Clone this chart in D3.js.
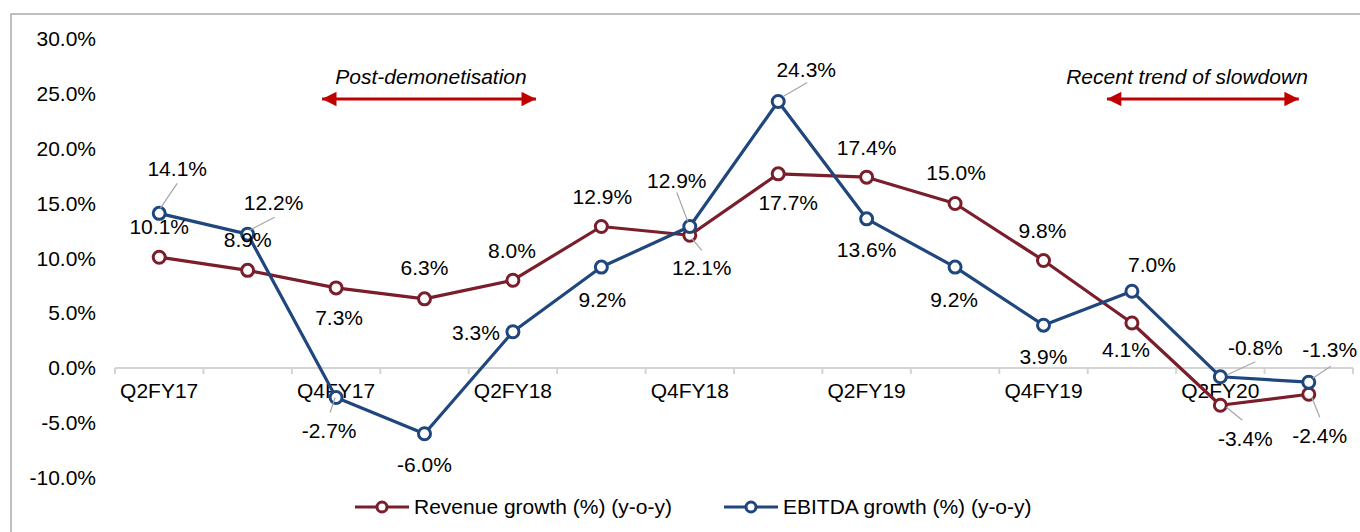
<!DOCTYPE html>
<html>
<head>
<meta charset="utf-8">
<script src="https://cdn.jsdelivr.net/npm/d3@7"></script>
<style>
  html, body { margin: 0; padding: 0; background: #fff; }
  svg { display: block; font-family: "Liberation Sans", Arial, sans-serif; }
</style>
</head>
<body>
<svg id="chart" width="1360" height="532"></svg>
<script>
// ---- Data ----
const categories = ["Q2FY17","Q3FY17","Q4FY17","Q1FY18","Q2FY18","Q3FY18","Q4FY18","Q1FY19","Q2FY19","Q3FY19","Q4FY19","Q1FY20","Q2FY20","Q3FY20"];
const revenueGrowth = [10.1, 8.9, 7.3, 6.3, 8.0, 12.9, 12.1, 17.7, 17.4, 15.0, 9.8, 4.1, -3.4, -2.4];
const ebitdaGrowth  = [14.1, 12.2, -2.7, -6.0, 3.3, 9.2, 12.9, 24.3, 13.6, 9.2, 3.9, 7.0, -0.8, -1.3];
const yTicks = [-10, -5, 0, 5, 10, 15, 20, 25, 30];
const seriesNames = ["Revenue growth (%) (y-o-y)", "EBITDA growth (%) (y-o-y)"];
const annotations = [
  { text: "Post-demonetisation", from: "Q4FY17", to: "Q2FY18" },
  { text: "Recent trend of slowdown", from: "Q1FY20", to: "Q3FY20" }
];

// ---- Label layout (pixel offsets from the point: label centre dx,dy; optional leader segment) ----
const revLabelLayout = [
  {dx:0,dy:-31},{dx:0,dy:-31},{dx:3,dy:30},{dx:0,dy:-31},{dx:-1,dy:-30},{dx:1,dy:-30},
  {dx:12,dy:32,lead:[2,3,12,15]},{dx:10,dy:29},{dx:0,dy:-30},{dx:1,dy:-31},{dx:-1,dy:-30},
  {dx:-6,dy:27},{dx:25,dy:33,lead:[6,2,22,15]},{dx:11,dy:41,lead:[3,3,11,23]}
];
const ebLabelLayout = [
  {dx:18,dy:-45,lead:[1,-5,18,-30]},{dx:26,dy:-32,lead:[2,-4,27,-17]},{dx:-7,dy:33,lead:[-1,0,-6,15]},
  {dx:0,dy:31},{dx:-37,dy:1},{dx:1,dy:33},{dx:-13,dy:-46,lead:[-13,-34,-2,-5]},
  {dx:28,dy:-32,lead:[5,-5,29,-19]},{dx:0,dy:31},{dx:-1,dy:33},{dx:0,dy:31},{dx:20,dy:-27},
  {dx:35,dy:-29,lead:[7,-2,35,-15]},{dx:21,dy:-33,lead:[4,-4,22,-16]}
];

const revColor = "#7b1e2c";
const ebColor = "#1f477d";
const arrowColor = "#c00000";
const fontSize = 21;

const svg = d3.select("#chart");

// outer frame (extends beyond the picture on the right and bottom)
svg.append("rect").attr("x", 11).attr("y", 14).attr("width", 1400).attr("height", 600)
  .attr("fill", "none").attr("stroke", "#ababab").attr("stroke-width", 1.5);

const x = d3.scaleBand().domain(categories).range([115, 1353]).paddingInner(0).paddingOuter(0);
const y = d3.scaleLinear().domain([-10, 30]).range([477.6, 39]);
const cx = c => x(c) + x.bandwidth() / 2;

// defs for arrowheads
const defs = svg.append("defs");
defs.append("marker").attr("id", "arrowEnd").attr("viewBox", "0 0 10 10")
  .attr("refX", 10).attr("refY", 5).attr("markerWidth", 5.2).attr("markerHeight", 4.8)
  .attr("markerUnits", "strokeWidth").attr("orient", "auto")
  .append("path").attr("d", "M0,0 L10,5 L0,10 Z").attr("fill", arrowColor);
defs.append("marker").attr("id", "arrowStart").attr("viewBox", "0 0 10 10")
  .attr("refX", 0).attr("refY", 5).attr("markerWidth", 5.2).attr("markerHeight", 4.8)
  .attr("markerUnits", "strokeWidth").attr("orient", "auto")
  .append("path").attr("d", "M10,0 L0,5 L10,10 Z").attr("fill", arrowColor);

// Y axis labels
svg.append("g").selectAll("text").data(yTicks).join("text")
  .attr("x", 96).attr("y", d => y(d)).attr("dy", "0.35em")
  .attr("text-anchor", "end").attr("font-size", fontSize).attr("fill", "#000")
  .text(d => d.toFixed(1) + "%");

// X axis line at 0 with tick marks at category boundaries
const xAxisG = svg.append("g").attr("transform", `translate(0,${y(0)})`);
xAxisG.append("line").attr("x1", 115).attr("x2", 1353).attr("y1", 0).attr("y2", 0)
  .attr("stroke", "#d4d4d4").attr("stroke-width", 2);
const boundaries = categories.map(c => x(c)).concat([x(categories[categories.length - 1]) + x.bandwidth()]);
xAxisG.selectAll("line.tick").data(boundaries).join("line").attr("class", "tick")
  .attr("x1", d => d).attr("x2", d => d).attr("y1", 0).attr("y2", 6)
  .attr("stroke", "#d4d4d4").attr("stroke-width", 2);

// category labels (every other)
svg.append("g").selectAll("text").data(categories.filter((c, i) => i % 2 === 0)).join("text")
  .attr("x", d => cx(d)).attr("y", y(0) + 23).attr("dy", "0.35em")
  .attr("text-anchor", "middle").attr("font-size", fontSize).attr("fill", "#000")
  .text(d => d);

// annotations
const annoLayout = [
  { l: -14, r: 23, tx: 431 },
  { l: -25, r: -10, tx: 1187 }
];
annotations.forEach((a, k) => {
  const L = annoLayout[k];
  svg.append("line").attr("x1", cx(a.from) + L.l).attr("x2", cx(a.to) + L.r).attr("y1", 99).attr("y2", 99)
    .attr("stroke", arrowColor).attr("stroke-width", 3)
    .attr("marker-start", "url(#arrowStart)").attr("marker-end", "url(#arrowEnd)");
  svg.append("text").attr("x", L.tx).attr("y", 77).attr("dy", "0.35em")
    .attr("text-anchor", "middle").attr("font-size", fontSize).attr("font-style", "italic")
    .attr("fill", "#000").text(a.text);
});

const line = d3.line().x((d, i) => cx(categories[i])).y(d => y(d));

function drawSeries(values, color) {
  const g = svg.append("g");
  g.append("path").datum(values).attr("d", line)
    .attr("fill", "none").attr("stroke", color).attr("stroke-width", 3.2).attr("stroke-linejoin", "round");
  g.selectAll("circle").data(values).join("circle")
    .attr("cx", (d, i) => cx(categories[i])).attr("cy", d => y(d)).attr("r", 6)
    .attr("fill", "#fff").attr("stroke", color).attr("stroke-width", 3);
}

function drawLabels(values, layout) {
  const g = svg.append("g");
  values.forEach((v, i) => {
    const px = cx(categories[i]), py = y(v), L = layout[i];
    if (L.lead) {
      g.append("line").attr("x1", px + L.lead[0]).attr("y1", py + L.lead[1])
        .attr("x2", px + L.lead[2]).attr("y2", py + L.lead[3])
        .attr("stroke", "#a6a6a6").attr("stroke-width", 1.2);
    }
    g.append("text").attr("x", px + L.dx).attr("y", py + L.dy).attr("dy", "0.35em")
      .attr("text-anchor", "middle").attr("font-size", fontSize).attr("fill", "#000")
      .text(v.toFixed(1) + "%");
  });
}

drawSeries(revenueGrowth, revColor);
drawSeries(ebitdaGrowth, ebColor);
drawLabels(revenueGrowth, revLabelLayout);
drawLabels(ebitdaGrowth, ebLabelLayout);

// legend
const legendItems = [
  { name: seriesNames[0], color: revColor, x0: 355, tx: 414 },
  { name: seriesNames[1], color: ebColor, x0: 724, tx: 783 }
];
const lg = svg.append("g");
legendItems.forEach(it => {
  lg.append("line").attr("x1", it.x0).attr("x2", it.x0 + 54).attr("y1", 507).attr("y2", 507)
    .attr("stroke", it.color).attr("stroke-width", 3.2);
  lg.append("circle").attr("cx", it.x0 + 27).attr("cy", 507).attr("r", 5)
    .attr("fill", "#fff").attr("stroke", it.color).attr("stroke-width", 3);
  lg.append("text").attr("x", it.tx).attr("y", 507).attr("dy", "0.35em")
    .attr("font-size", fontSize).attr("fill", "#000")
    .text(it.name);
});
</script>
</body>
</html>
